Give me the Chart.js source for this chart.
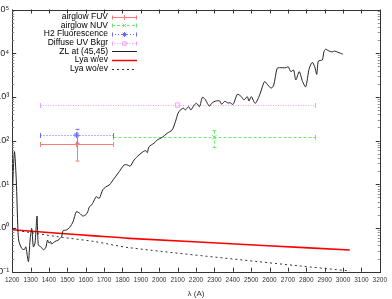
<!DOCTYPE html>
<html>
<head>
<meta charset="utf-8">
<script src="https://cdn.jsdelivr.net/npm/chart.js@4.4.0/dist/chart.umd.min.js"></script>
<style>
html, body { margin: 0; padding: 0; background: #fff; }
</style>
</head>
<body>
<canvas id="chartSky" width="392" height="299"></canvas>
<script>
// zodiacal light spectrum at (45,45)
const zlWave = [1200, 1212, 1222, 1231, 1236, 1252, 1266, 1274, 1288, 1297, 1306, 1315, 1324, 1335, 1342,
  1356, 1369, 1382, 1392, 1400, 1409, 1414, 1432, 1450, 1468, 1477, 1495, 1513, 1531, 1549, 1567, 1584,
  1600, 1611, 1620, 1633, 1647, 1657, 1674, 1692, 1710, 1728, 1755, 1782, 1809, 1827, 1842, 1863, 1890,
  1913, 1926, 1935, 1944, 1971, 1989, 2016, 2043, 2070, 2088, 2102, 2115, 2133, 2142, 2160, 2172, 2190,
  2204, 2219, 2235, 2250, 2262, 2273, 2285, 2298, 2312, 2330, 2339, 2357, 2375, 2384, 2402, 2425, 2447,
  2461, 2479, 2488, 2501, 2522, 2546, 2573, 2591, 2609, 2623, 2641, 2654, 2690, 2702, 2716, 2731, 2743,
  2762, 2780, 2797, 2816, 2833, 2846, 2857, 2866, 2887, 2896, 2905, 2924, 2941, 2954, 2972, 2986, 2999];
const zlFlux = [5.2, 56, 12.5, 0.9, 0.5, 0.34, 0.32, 0.37, 0.17, 0.53, 0.98, 0.37, 0.45, 1.88, 0.41,
  0.37, 0.32, 0.35, 0.53, 0.45, 0.49, 0.43, 0.49, 0.53, 0.63, 0.87, 0.9, 1.04, 1.39, 2.36, 2.17, 1.88,
  2.0, 2.36, 3.07, 3.4, 4.4, 5.2, 4.8, 7.4, 8.8, 9.6, 13.7, 19.4, 27.7, 27.7, 26, 36, 47,
  56, 59, 53, 72, 87, 103, 119, 147, 175, 270, 421, 502, 550, 502, 597, 502, 653,
  710, 597, 979, 881, 710, 615, 710, 776, 813, 805, 680, 790, 720, 741, 676, 1148, 1012,
  851, 1012, 805, 1012, 710, 1096, 2240, 1870, 1580, 1870, 4470, 4650, 4650, 4900, 3780, 4130, 2440,
  3780, 2240, 1700, 4470, 6170, 4900, 3290, 6610, 7000, 10700, 12300, 11200, 10700, 11200, 10500, 9950, 9550];

// Lyman alpha, with and without extinction
const lyaEvWave = [1200, 1450, 1647, 1836, 2591, 3037];
const lyaEvFlux = [0.91, 0.76, 0.66, 0.58, 0.394, 0.314];
const lyaNoEvWave = [1200, 1450, 1647, 1836, 2537, 2753, 3037];
const lyaNoEvFlux = [0.91, 0.63, 0.49, 0.355, 0.17, 0.137, 0.104];

// measured backgrounds (band range + flux with error)
const obsNames = ['airglow FUV', 'airglow NUV', 'H2 Fluorescence', 'Diffuse UV Bkgr'];
const obsWave = [1550, 2300, 1550, 2100];
const obsWaveLo = [1350, 1750, 1350, 1350];
const obsWaveHi = [1750, 2850, 1750, 2850];
const obsFlux = [82, 119, 134, 650];
const obsFluxErr = [48, 50, 47, 0];

const xTickValues = [1200, 1300, 1400, 1500, 1600, 1700, 1800, 1900, 2000, 2100, 2200,
  2300, 2400, 2500, 2600, 2700, 2800, 2900, 3000, 3100, 3200];
const yDecades = [0.1, 1, 10, 100, 1000, 10000, 100000];
const yLabels = ['10⁻¹', '10⁰', '10¹', '10²', '10³', '10⁴', '10⁵'];

const obsStyles = [
  { color: '#ff7a7a', dash: [], point: 'cross' },
  { color: '#6ee86e', dash: [3, 2], point: 'crossRot' },
  { color: '#6a6aff', dash: [1, 2], point: 'star' },
  { color: '#ff99ff', dash: [1, 1.5], point: 'rect' }
];

const xy = (xs, ys) => xs.map((v, i) => ({ x: v, y: ys[i] }));

function seg(ctx, x1, y1, x2, y2) {
  ctx.beginPath();
  ctx.moveTo(x1, y1);
  ctx.lineTo(x2, y2);
  ctx.stroke();
}

const errorBars = {
  id: 'errorBars',
  beforeDatasetsDraw(chart) {
    const { ctx, chartArea: a, scales: { x, y } } = chart;
    ctx.save();
    ctx.beginPath();
    ctx.rect(a.left, a.top, a.width, a.height);
    ctx.clip();
    ctx.lineWidth = 1;
    obsNames.forEach((name, i) => {
      const st = obsStyles[i];
      ctx.strokeStyle = st.color;
      const yc = Math.round(y.getPixelForValue(obsFlux[i])) + 0.5;
      const xl = Math.round(x.getPixelForValue(obsWaveLo[i])) + 0.5;
      const xr = Math.round(x.getPixelForValue(obsWaveHi[i])) + 0.5;
      const xc = Math.round(x.getPixelForValue(obsWave[i])) + 0.5;
      ctx.setLineDash(st.dash);
      seg(ctx, xl, yc, xr, yc);
      if (obsFluxErr[i] > 0) {
        const yt = y.getPixelForValue(obsFlux[i] + obsFluxErr[i]);
        const yb = y.getPixelForValue(obsFlux[i] - obsFluxErr[i]);
        seg(ctx, xc, yt, xc, yb);
        ctx.setLineDash([]);
        seg(ctx, xc - 2, yt, xc + 2, yt);
        seg(ctx, xc - 2, yb, xc + 2, yb);
      }
      ctx.setLineDash([]);
      seg(ctx, xl, yc - 2.5, xl, yc + 2.5);
      seg(ctx, xr, yc - 2.5, xr, yc + 2.5);
    });
    ctx.restore();
  }
};

const frameTicks = {
  id: 'frameTicks',
  afterDatasetsDraw(chart) {
    const { ctx, chartArea: a, scales: { x, y } } = chart;
    ctx.save();
    ctx.strokeStyle = '#333';
    ctx.lineWidth = 1;
    ctx.strokeRect(Math.round(a.left) + 0.5, Math.round(a.top) + 0.5,
      Math.round(a.width), Math.round(a.height));
    xTickValues.forEach(v => {
      const px = Math.round(x.getPixelForValue(v)) + 0.5;
      seg(ctx, px, a.bottom, px, a.bottom - 4);
      seg(ctx, px, a.top, px, a.top + 4);
    });
    yDecades.forEach(d => {
      const py = Math.round(y.getPixelForValue(d)) + 0.5;
      ctx.strokeStyle = '#333';
      seg(ctx, a.left, py, a.left + 4, py);
      seg(ctx, a.right, py, a.right - 4, py);
      if (d >= 100000) return;
      ctx.strokeStyle = '#888';
      for (let m = 2; m <= 9; m++) {
        const pm = Math.round(y.getPixelForValue(d * m)) + 0.5;
        seg(ctx, a.left, pm, a.left + 2, pm);
        seg(ctx, a.right, pm, a.right - 2, pm);
      }
    });
    ctx.restore();
  }
};

const keyBox = {
  id: 'keyBox',
  afterDraw(chart) {
    const { ctx } = chart;
    const names = obsNames.concat(['ZL at (45,45)', 'Lya w/ev', 'Lya wo/ev']);
    ctx.save();
    ctx.font = '8.5px "Liberation Sans", Arial, sans-serif';
    ctx.textAlign = 'right';
    ctx.textBaseline = 'middle';
    names.forEach((name, i) => {
      const ry = 16.7 + i * 8.65;
      const yy = Math.round(ry) + 0.5;
      ctx.fillStyle = '#000';
      ctx.fillText(name, 108, ry);
      const x1 = 112, x2 = 137;
      ctx.lineWidth = 1;
      if (i < 4) {
        const st = obsStyles[i];
        ctx.strokeStyle = st.color;
        ctx.setLineDash(st.dash);
        seg(ctx, x1, yy, x2, yy);
        ctx.setLineDash([]);
        seg(ctx, x1 + 0.5, yy - 2, x1 + 0.5, yy + 2);
        seg(ctx, x2 - 0.5, yy - 2, x2 - 0.5, yy + 2);
        ctx.fillStyle = 'rgba(0,0,0,0)';
        Chart.helpers.drawPoint(ctx, { pointStyle: st.point, radius: 2.5, rotation: 0, borderWidth: 1 }, (x1 + x2) / 2, yy);
      } else if (i === 4) {
        ctx.strokeStyle = '#222';
        seg(ctx, x1, yy, x2, yy);
      } else if (i === 5) {
        ctx.strokeStyle = '#ff0000';
        ctx.lineWidth = 1.5;
        seg(ctx, x1, yy, x2, yy);
      } else {
        ctx.strokeStyle = '#333';
        ctx.setLineDash([2, 3]);
        seg(ctx, x1, yy, x2, yy);
        ctx.setLineDash([]);
      }
    });
    ctx.restore();
  }
};

const obsSets = obsNames.map((name, i) => ({
  label: name,
  type: 'scatter',
  data: [{ x: obsWave[i], y: obsFlux[i] }],
  pointStyle: obsStyles[i].point,
  pointRadius: 3,
  borderColor: obsStyles[i].color,
  backgroundColor: 'rgba(0,0,0,0)',
  borderWidth: 1
}));

new Chart(document.getElementById('chartSky'), {
  type: 'line',
  data: {
    datasets: obsSets.concat([
      {
        label: 'ZL at (45,45)',
        data: xy(zlWave, zlFlux),
        borderColor: '#222',
        borderWidth: 1,
        pointRadius: 0,
        tension: 0.25
      },
      {
        label: 'Lya w/ev',
        data: xy(lyaEvWave, lyaEvFlux),
        borderColor: '#ff0000',
        borderWidth: 1.6,
        pointRadius: 0,
        tension: 0.3
      },
      {
        label: 'Lya wo/ev',
        data: xy(lyaNoEvWave, lyaNoEvFlux),
        borderColor: '#333',
        borderWidth: 1,
        borderDash: [2, 3],
        pointRadius: 0,
        tension: 0.3
      }
    ])
  },
  options: {
    responsive: false,
    animation: false,
    layout: { padding: { top: 9.5, right: 9, left: 0, bottom: 0 } },
    plugins: {
      legend: { display: false },
      tooltip: { enabled: false }
    },
    scales: {
      x: {
        type: 'linear',
        min: 1200,
        max: 3200,
        grid: { display: false, drawTicks: false },
        border: { display: false },
        afterBuildTicks: s => { s.ticks = xTickValues.map(v => ({ value: v })); },
        afterFit: s => { s.height = 27.3; },
        ticks: {
          autoSkip: false,
          maxRotation: 0,
          padding: 5,
          color: '#333',
          font: { family: '"Liberation Sans", Arial, sans-serif', size: 6.5 },
          callback: (v) => String(v)
        },
        title: {
          display: true,
          text: 'λ (A)',
          color: '#333',
          padding: { top: 0, bottom: 0 },
          font: { family: '"Liberation Sans", Arial, sans-serif', size: 8 }
        }
      },
      y: {
        type: 'logarithmic',
        min: 0.1,
        max: 100000,
        grid: { display: false, drawTicks: false },
        border: { display: false },
        afterBuildTicks: s => { s.ticks = yDecades.map(v => ({ value: v })); },
        afterFit: s => { s.width = 12; },
        ticks: {
          autoSkip: false,
          padding: 3,
          color: '#222',
          font: { family: '"Liberation Sans", Arial, sans-serif', size: 9 },
          callback: (v) => yLabels[yDecades.indexOf(v)] || ''
        }
      }
    }
  },
  plugins: [errorBars, frameTicks, keyBox]
});
</script>
</body>
</html>
